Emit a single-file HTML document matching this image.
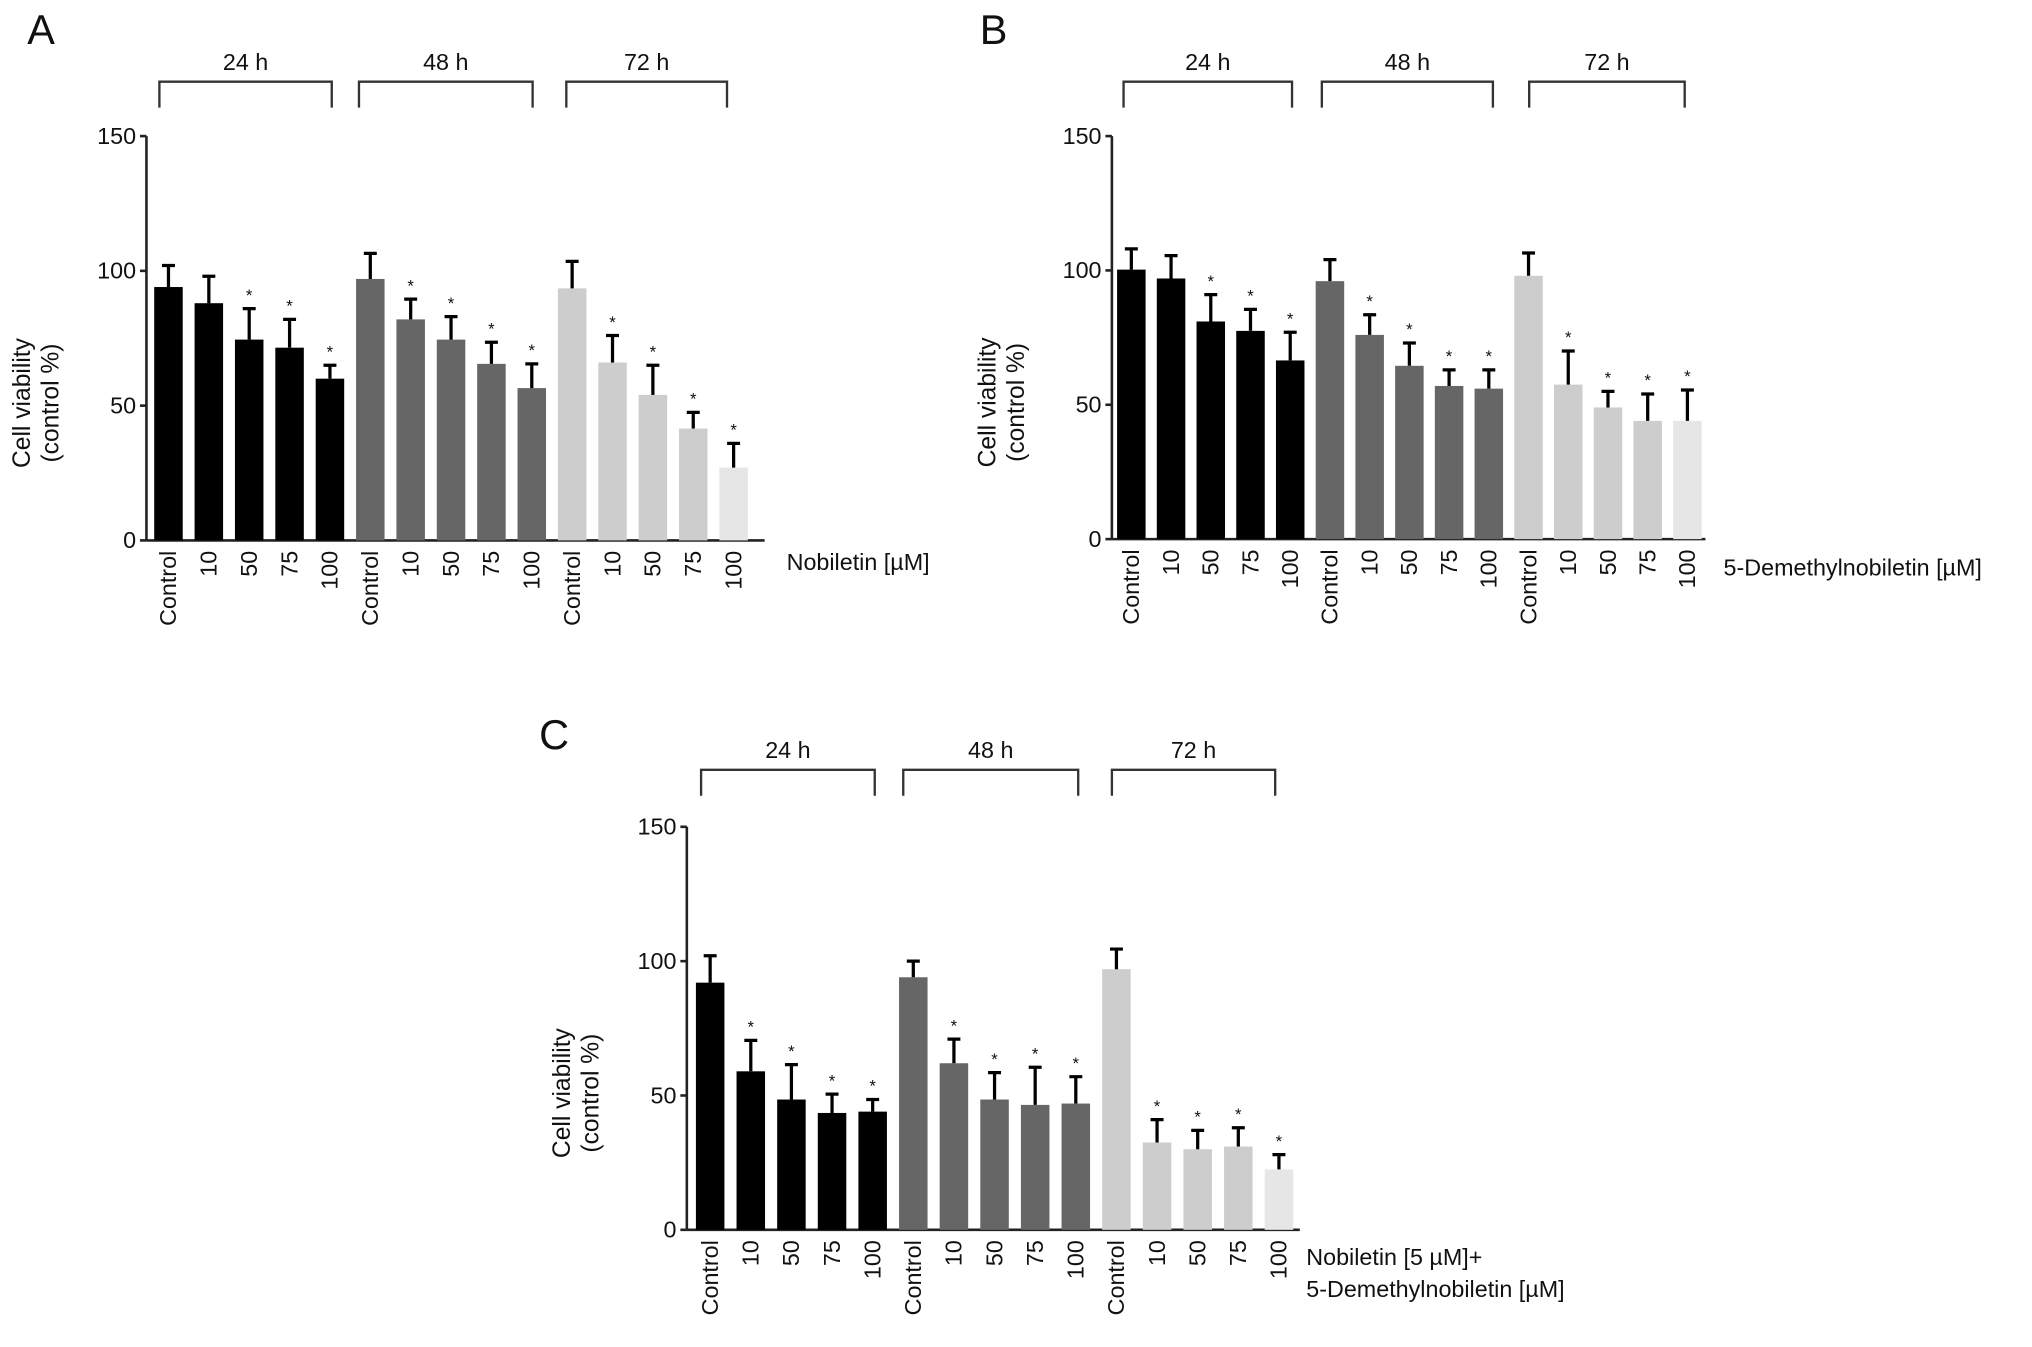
<!DOCTYPE html>
<html><head><meta charset="utf-8"><style>
html,body{margin:0;padding:0;background:#fff}
svg{display:block}
text{font-family:"Liberation Sans",sans-serif;fill:#111}
</style></head><body>
<svg id="fig" width="2032" height="1347" viewBox="0 0 1568 1039.4" xmlns="http://www.w3.org/2000/svg"></svg>
<script>
const categories = ["Control","10","50","75","100"];
const timeLabels = ["24 h","48 h","72 h"];
const yTicks = [0,50,100,150];
// Panel A values (mean, upper error) per time group
const aMeans24 = [94,88,74.5,71.5,60];   const aErr24 = [102,98,86,82,65];
const aMeans48 = [97,82,74.5,65.5,56.5]; const aErr48 = [106.5,89.5,83,73.5,65.5];
const aMeans72 = [93.5,66,54,41.5,27];   const aErr72 = [103.5,76,65,47.5,36];
// Panel B
const bMeans24 = [100.3,97,81,77.5,66.5]; const bErr24 = [108,105.5,91,85.5,77];
const bMeans48 = [96,76,64.5,57,56];      const bErr48 = [104,83.5,73,63,63];
const bMeans72 = [98,57.5,49,44,44];      const bErr72 = [106.5,70,55,54,55.5];
// Panel C
const cMeans24 = [92,59,48.5,43.5,44];    const cErr24 = [102,70.5,61.5,50.5,48.5];
const cMeans48 = [94,62,48.5,46.5,47];    const cErr48 = [100,71,58.5,60.5,57];
const cMeans72 = [97,32.5,30,31,22.5];    const cErr72 = [104.5,41,37,38,28];
const sig24A = [0,0,1,1,1], sigOther = [0,1,1,1,1], sig24C = [0,1,1,1,1];

const NS="http://www.w3.org/2000/svg";
const svg=document.getElementById('fig');
function mk(tag,attrs,parent){const e=document.createElementNS(NS,tag);for(const k in attrs)e.setAttribute(k,attrs[k]);(parent||svg).appendChild(e);return e;}

function panel(p){
  const g=mk('g',{});
  
  
  const yS=v=>p.y0-(v/150)*(p.y0-p.y150);
  const xS=i=>p.x0+i*p.pitch;
  const L=mk('text',{x:p.lx,y:p.ly,'font-size':32},g);L.textContent=p.letter;
  
  
  const ya=mk('line',{x1:p.ax,y1:p.y150,x2:p.ax,y2:p.y0,stroke:'#222','stroke-width':2},g);
  
  
  const xa=mk('line',{x1:p.ax,y1:p.y0,x2:p.axEnd,y2:p.y0,stroke:'#222','stroke-width':2},g);
  
  
  yTicks.forEach(t=>{
    mk('line',{x1:p.ax-5,y1:yS(t),x2:p.ax,y2:yS(t),stroke:'#222','stroke-width':2},g);
    const tx=mk('text',{x:p.ax-8,y:yS(t)+6,'font-size':18,'text-anchor':'end'},g);tx.textContent=t;
    
    
  });
  const yt=mk('text',{transform:`translate(${p.ax-90},${(p.y0+p.y150)/2+50}) rotate(-90)`,'font-size':19,'text-anchor':'middle'},g);
  
  
  const t1=mk('tspan',{x:0,dy:0},yt);t1.textContent='Cell viability';
  const t2=mk('tspan',{x:0,dy:22},yt);t2.textContent='(control %)';
  const colors=['#000','#666','#cdcdcd'];
  const bw=22;
  for(let gi=0;gi<3;gi++){
    const means=p.means[gi], errs=p.errs[gi], sig=p.sig[gi];
    categories.forEach((c,ci)=>{
      const i=gi*5+ci, cx=xS(i);
      const col=(gi===2&&ci===4)?'#e6e6e6':colors[gi];
      const r=mk('rect',{x:cx-bw/2,y:yS(means[ci]),width:bw,height:p.y0-yS(means[ci]),fill:col},g);
      
      
      const e=mk('path',{d:`M${cx} ${yS(means[ci])}V${yS(errs[ci])}M${cx-5} ${yS(errs[ci])}H${cx+5}`,stroke:'#000','stroke-width':2.5,fill:'none'},g);
      
      
      if(sig[ci]){const s=mk('text',{x:cx,y:yS(errs[ci])-6,'font-size':13,'text-anchor':'middle'},g);s.textContent='*';
        
        }
      const xl=mk('text',{transform:`translate(${cx+6},${p.y0+8}) rotate(-90)`,'font-size':18,'text-anchor':'end'},g);xl.textContent=c;
      
      
    });
    const [bx1,bx2]=p.br[gi];
    const b=mk('path',{d:`M${bx1} ${p.brB}V${p.brT}H${bx2}V${p.brB}`,stroke:'#333','stroke-width':1.8,fill:'none'},g);
    
    
    const bl=mk('text',{x:(bx1+bx2)/2,y:p.brT-9,'font-size':18,'text-anchor':'middle'},g);bl.textContent=timeLabels[gi];
    
    
  }
  const xt=mk('text',{x:p.xtx,y:p.xty,'font-size':18},g);
  
  
  p.xtLines.forEach((l,k)=>{const ts=mk('tspan',{x:p.xtx,dy:k?25:0},xt);ts.textContent=l;});
}
panel({id:'a',letter:'A',lx:21,ly:34,ax:113,axEnd:590,y0:417,y150:105,x0:130,pitch:31.15,
  means:[aMeans24,aMeans48,aMeans72],errs:[aErr24,aErr48,aErr72],sig:[sig24A,sigOther,sigOther],
  br:[[123,256],[277,411],[437,561]],brT:63,brB:83,xtx:607,xty:440,xtLines:['Nobiletin [\u00b5M]']});
panel({id:'b',letter:'B',lx:756,ly:34,ax:858,axEnd:1316,y0:416,y150:105,x0:873,pitch:30.65,
  means:[bMeans24,bMeans48,bMeans72],errs:[bErr24,bErr48,bErr72],sig:[sig24A,sigOther,sigOther],
  br:[[867,997],[1020,1152],[1180,1300]],brT:63,brB:83,xtx:1330,xty:444,xtLines:['5-Demethylnobiletin [\u00b5M]']});
panel({id:'c',letter:'C',lx:416,ly:578,ax:530,axEnd:1003,y0:949,y150:638,x0:548,pitch:31.35,
  means:[cMeans24,cMeans48,cMeans72],errs:[cErr24,cErr48,cErr72],sig:[sig24C,sigOther,sigOther],
  br:[[541,675],[697,832],[858,984]],brT:594,brB:614,xtx:1008,xty:976,xtLines:['Nobiletin [5 \u00b5M]+','5-Demethylnobiletin [\u00b5M]']});
</script>
</body></html>
